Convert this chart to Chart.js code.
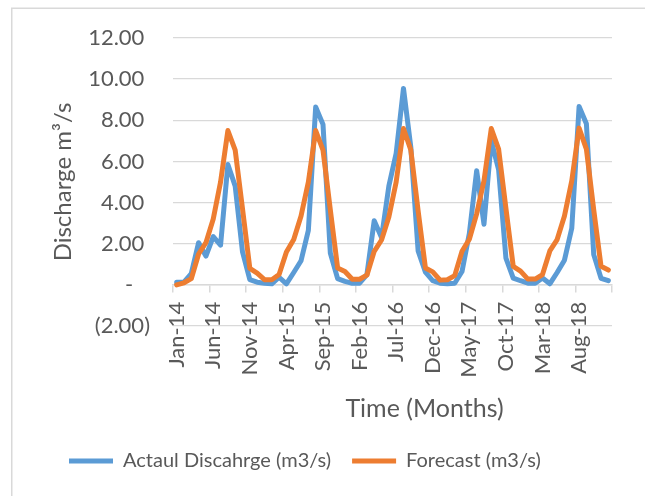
<!DOCTYPE html>
<html>
<head>
<meta charset="utf-8">
<script src="https://cdn.jsdelivr.net/npm/chart.js@4.4.1/dist/chart.umd.min.js"></script>
<style>
  html, body { margin: 0; padding: 0; background: #fff; }
</style>
</head>
<body>
<canvas id="dischargeChart" width="645" height="496"></canvas>
<script>
const months = [
  'Jan-14', 'Feb-14', 'Mar-14', 'Apr-14', 'May-14', 'Jun-14', 'Jul-14', 'Aug-14', 'Sep-14', 'Oct-14', 'Nov-14', 'Dec-14',
  'Jan-15', 'Feb-15', 'Mar-15', 'Apr-15', 'May-15', 'Jun-15', 'Jul-15', 'Aug-15', 'Sep-15', 'Oct-15', 'Nov-15', 'Dec-15',
  'Jan-16', 'Feb-16', 'Mar-16', 'Apr-16', 'May-16', 'Jun-16', 'Jul-16', 'Aug-16', 'Sep-16', 'Oct-16', 'Nov-16', 'Dec-16',
  'Jan-17', 'Feb-17', 'Mar-17', 'Apr-17', 'May-17', 'Jun-17', 'Jul-17', 'Aug-17', 'Sep-17', 'Oct-17', 'Nov-17', 'Dec-17',
  'Jan-18', 'Feb-18', 'Mar-18', 'Apr-18', 'May-18', 'Jun-18', 'Jul-18', 'Aug-18', 'Sep-18', 'Oct-18', 'Nov-18', 'Dec-18'
];

const actualDischarge = [
  0.13, 0.13, 0.55, 2.05, 1.40, 2.35, 1.93, 5.85, 4.80, 1.60, 0.25, 0.13,
  0.08, 0.05, 0.37, 0.05, 0.60, 1.17, 2.65, 8.65, 7.80, 1.55, 0.30, 0.17,
  0.08, 0.08, 0.50, 3.12, 2.30, 4.80, 6.40, 9.55, 6.70, 1.65, 0.62, 0.20,
  0.08, 0.05, 0.08, 0.65, 2.50, 5.55, 2.95, 7.00, 5.60, 1.30, 0.33, 0.20,
  0.08, 0.08, 0.33, 0.05, 0.60, 1.20, 2.75, 8.67, 7.83, 1.47, 0.32, 0.20
];

const forecastDischarge = [
  0.00, 0.10, 0.30, 1.50, 2.05, 3.20, 5.00, 7.50, 6.55, 3.70, 0.80, 0.57,
  0.25, 0.25, 0.50, 1.60, 2.20, 3.35, 5.00, 7.50, 6.55, 3.65, 0.82, 0.65,
  0.27, 0.27, 0.47, 1.63, 2.18, 3.30, 5.00, 7.60, 6.56, 3.60, 0.82, 0.63,
  0.23, 0.25, 0.45, 1.63, 2.22, 3.45, 5.06, 7.60, 6.60, 3.72, 0.90, 0.67,
  0.28, 0.28, 0.50, 1.65, 2.20, 3.35, 5.06, 7.62, 6.60, 3.65, 0.90, 0.72
];

const yMin = -2;
const yMax = 12;
const yStep = 2;

const textColor = '#595959';
const gridColor = '#d9d9d9';

Chart.defaults.font.family = 'Lato';

// light frame round the chart area, like the Excel chart border
const chartFrame = {
  id: 'chartFrame',
  beforeDraw(chart) {
    const ctx = chart.ctx;
    ctx.save();
    ctx.fillStyle = '#fff';
    ctx.fillRect(0, 0, chart.width, chart.height);
    ctx.strokeStyle = gridColor;
    ctx.lineWidth = 1.5;
    ctx.strokeRect(11.75, 8.25, 700, 600);
    ctx.restore();
  }
};

const formatTick = (value) => {
  if (value === 0) return '-   ';
  if (value < 0) return '(' + Math.abs(value).toFixed(2) + ')';
  return value.toFixed(2) + ' ';
};

const ctx = document.getElementById('dischargeChart').getContext('2d');

new Chart(ctx, {
  type: 'line',
  data: {
    labels: months,
    datasets: [
      {
        label: 'Actaul Discahrge (m3/s)',
        data: actualDischarge,
        borderColor: '#5B9BD5',
        backgroundColor: '#5B9BD5',
        borderWidth: 5,
        pointRadius: 0,
        tension: 0,
        borderJoinStyle: 'round',
        borderCapStyle: 'round',
        order: 2,
      },
      {
        label: 'Forecast (m3/s)',
        data: forecastDischarge,
        borderColor: '#ED7D31',
        backgroundColor: '#ED7D31',
        borderWidth: 5,
        pointRadius: 0,
        tension: 0,
        borderJoinStyle: 'round',
        borderCapStyle: 'round',
        order: 1,
      },
    ],
  },
  options: {
    responsive: false,
    animation: false,
    devicePixelRatio: 1,
    layout: {
      padding: { left: 48, right: 29, top: 38, bottom: 15 },
    },
    plugins: {
      tooltip: { enabled: false },
      legend: {
        position: 'bottom',
        align: 'start',
        maxHeight: 172,
        title: {
          display: true,
          text: ' ',
          font: { size: 10 },
          padding: { top: 92, bottom: 0 },
        },
        labels: {
          usePointStyle: true,
          pointStyle: 'line',
          pointStyleWidth: 44,
          padding: 21,
          color: textColor,
          font: { size: 20 },
          sort: (a, b) => a.datasetIndex - b.datasetIndex,
        },
      },
    },
    scales: {
      x: {
        position: { y: 0 },
        offset: true,
        grid: {
          offset: true,
          drawOnChartArea: false,
          tickLength: 7,
          lineWidth: 1.5,
          color: (c) => (c.index === undefined || c.index % 5 === 0) ? gridColor : 'rgba(0,0,0,0)',
        },
        border: { color: gridColor, width: 1.5 },
        ticks: {
          autoSkip: false,
          minRotation: 90,
          maxRotation: 90,
          padding: 10,
          color: textColor,
          font: { size: 22 },
          callback: function (value, index) {
            return index % 5 === 0 ? this.getLabelForValue(value) : '';
          },
        },
        title: {
          display: true,
          text: '          Time (Months)',
          color: textColor,
          font: { size: 25 },
          padding: { top: 6, bottom: 0 },
        },
      },
      y: {
        min: yMin,
        max: yMax,
        grid: {
          color: gridColor,
          lineWidth: 1.3,
          drawTicks: false,
        },
        border: { display: false },
        ticks: {
          stepSize: yStep,
          padding: 23,
          color: textColor,
          font: { size: 22 },
          callback: (value) => formatTick(value),
        },
        title: {
          display: true,
          text: 'Discharge m³/s',
          color: textColor,
          font: { size: 24 },
          padding: { top: 1, bottom: 0 },
        },
        afterFit: (scale) => {
          scale.width = 125;
        },
      },
    },
  },
  plugins: [chartFrame],
});
</script>
</body>
</html>
